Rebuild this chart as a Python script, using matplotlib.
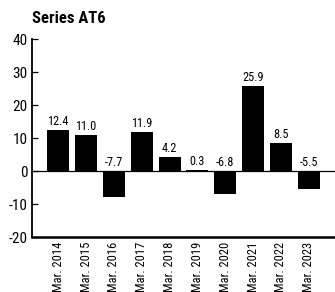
import matplotlib
matplotlib.use("Agg")
import matplotlib.pyplot as plt

categories = ["Mar. 2014", "Mar. 2015", "Mar. 2016", "Mar. 2017", "Mar. 2018",
              "Mar. 2019", "Mar. 2020", "Mar. 2021", "Mar. 2022", "Mar. 2023"]
values = [12.4, 11.0, -7.7, 11.9, 4.2, 0.3, -6.8, 25.9, 8.5, -5.5]
yticks = [-20, -10, 0, 10, 20, 30, 40]
title = "Series AT6"

plt.rcParams['font.family'] = ['Roboto Condensed', 'DejaVu Sans']

fig = plt.figure(figsize=(3.35, 2.92), dpi=100)
ax = fig.add_axes([0.0955, 0.188, 0.9045, 0.678])

x = list(range(len(categories)))
ax.bar(x, values, width=0.79, color='black', zorder=2)
ax.axhline(0, color='black', linewidth=0.9, zorder=3)

for xi, v in zip(x, values):
    ypos = v if v > 0 else 0
    ax.annotate(f"{v:.1f}", (xi, ypos), xytext=(0, 1.5), textcoords='offset points',
                ha='center', va='bottom', fontsize=8.8)

ax.set_xlim(-0.94, 9.94)
ax.set_ylim(-20, 40)
ax.set_yticks(yticks)
ax.set_yticklabels([str(t) for t in yticks], fontsize=11)
ax.set_xticks(x)
ax.set_xticklabels(categories, rotation=90, fontsize=9)
ax.tick_params(axis='y', direction='in', length=4.5, width=0.9, pad=3)
ax.tick_params(axis='x', length=0, pad=3.5)

for s in ['top', 'right']:
    ax.spines[s].set_visible(False)
ax.spines['left'].set_linewidth(1.3)
ax.spines['bottom'].set_linewidth(1.8)

fig.text(0.097, 0.938, title, fontsize=12, fontweight='bold', ha='left', va='center')

fig.savefig("out.png", dpi=100)
